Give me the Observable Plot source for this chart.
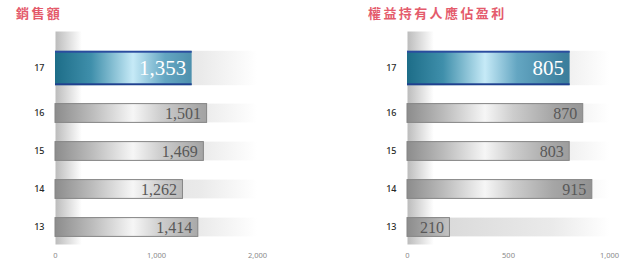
<!DOCTYPE html>
<html>
<head>
<meta charset="utf-8">
<script src="https://cdn.jsdelivr.net/npm/d3@7"></script>
<script src="https://cdn.jsdelivr.net/npm/@observablehq/plot@0.6"></script>
<style>
  html, body { margin: 0; padding: 0; background: #fff; }
  #wrap { display: flex; width: 640px; height: 265px; overflow: hidden; }
  .panel { width: 320px; }
  .title { height: 24px; line-height: 26px; font-family: "Noto Sans CJK TC", "Noto Sans CJK SC", sans-serif;
           font-weight: 700; font-size: 13px; letter-spacing: 2.4px; color: #e45b6c; white-space: nowrap; }
</style>
</head>
<body>
<div id="wrap"></div>
<script>
// ---- data ----
const years = ["17", "16", "15", "14", "13"];
const highlightYear = "17";
const salesValues = [1353, 1501, 1469, 1262, 1414];
const profitValues = [805, 870, 803, 915, 210];
const salesTicks = [0, 1000, 2000];
const profitTicks = [0, 500, 1000];
const salesTitle = "銷售額";
const profitTitle = "權益持有人應佔盈利";

function defs(id, ml) {
  const a = ml, b = ml + 200;
  return `<defs>
  <linearGradient id="vs-${id}" x1="0" x2="1" y1="0" y2="0">
    <stop offset="0" stop-color="#bcbcbc"/><stop offset="0.13" stop-color="#ffffff"/><stop offset="1" stop-color="#ffffff"/>
  </linearGradient>
  <linearGradient id="bg-${id}" x1="0" x2="1" y1="0" y2="0">
    <stop offset="0" stop-color="#d4d4d4"/><stop offset="0.35" stop-color="#dfdfdf"/><stop offset="0.72" stop-color="#eaeaea"/><stop offset="1" stop-color="#ffffff"/>
  </linearGradient>
  <linearGradient id="gr-${id}" gradientUnits="userSpaceOnUse" x1="${a}" x2="${b}" y1="0" y2="0">
    <stop offset="0" stop-color="#8c8c8c"/><stop offset="0.19" stop-color="#bdbdbd"/><stop offset="0.39" stop-color="#f6f6f6"/>
    <stop offset="0.53" stop-color="#cdcdcd"/><stop offset="0.73" stop-color="#a6a6a6"/><stop offset="1" stop-color="#8a8a8a"/>
  </linearGradient>
  <linearGradient id="bl-${id}" gradientUnits="userSpaceOnUse" x1="${a}" x2="${b}" y1="0" y2="0">
    <stop offset="0" stop-color="#1d6d88"/><stop offset="0.18" stop-color="#3f8fab"/><stop offset="0.39" stop-color="#c6eaf7"/>
    <stop offset="0.55" stop-color="#64a6c2"/><stop offset="0.78" stop-color="#3d809e"/><stop offset="1" stop-color="#2e6e8c"/>
  </linearGradient>
</defs>`;
}

function panel({title, values, ticks, ml, mr, id, titlePad}) {
  const rows = years.map((year, i) => ({year, value: values[i], hi: year === highlightYear}));
  const norm = rows.filter(d => !d.hi);
  const hi = rows.filter(d => d.hi);
  const xMin = ticks[0], xMax = ticks[ticks.length - 1];
  const yRange = [30, 223];
  const step = (yRange[1] - yRange[0]) / years.length;
  const nIn = (step - 19.4) / 2;
  const hIn = (step - 35) / 2;
  const hdy = -7;
  const fmt = d3.format(",");

  const chart = Plot.plot({
    width: 320, height: 241,
    marginLeft: ml, marginRight: mr, marginTop: 7, marginBottom: 21,
    style: {background: "white", fontFamily: "'Noto Sans', sans-serif"},
    x: {domain: [xMin, xMax]},
    y: {type: "band", domain: years, range: yRange, padding: 0, axis: null},
    marks: [
      Plot.frame({fill: `url(#vs-${id})`, stroke: "none"}),
      // background strips
      Plot.barX(norm, {x1: () => xMin, x2: () => xMax, y: "year", fill: `url(#bg-${id})`, insetTop: nIn, insetBottom: nIn}),
      Plot.barX(hi, {x1: () => xMin, x2: () => xMax, y: "year", fill: `url(#bg-${id})`, insetTop: hIn, insetBottom: hIn, dy: hdy}),
      // gray bars
      Plot.barX(norm, {x: "value", y: "year", fill: `url(#gr-${id})`, stroke: "#858585", strokeWidth: 1, insetTop: nIn, insetBottom: nIn}),
      // highlighted bar
      Plot.barX(hi, {x: "value", y: "year", fill: `url(#bl-${id})`, insetTop: hIn, insetBottom: hIn, dy: hdy}),
      Plot.barX(hi, {x: "value", y: "year", fill: "#2b4c9f", insetTop: hIn, insetBottom: step - hIn - 2.5, dy: hdy}),
      Plot.barX(hi, {x: "value", y: "year", fill: "#20408f", insetTop: step - hIn - 2.5, insetBottom: hIn, dy: hdy}),
      // value labels
      Plot.text(norm, {x: "value", y: "year", text: d => fmt(d.value), textAnchor: "end", dx: -6,
        fontFamily: "'Liberation Serif', serif", fontSize: 16, fill: "#585858"}),
      Plot.text(hi, {x: "value", y: "year", text: d => fmt(d.value), textAnchor: "end", dx: -6, dy: hdy,
        fontFamily: "'Liberation Serif', serif", fontSize: 21, fill: "#ffffff"}),
      // y labels
      Plot.text(norm, {y: "year", text: "year", frameAnchor: "left", textAnchor: "end", dx: -11, fontSize: 9, fill: "#2a2a2a", fontWeight: 500}),
      Plot.text(hi, {y: "year", text: "year", frameAnchor: "left", textAnchor: "end", dx: -11, dy: hdy, fontSize: 9, fill: "#2a2a2a", fontWeight: 500}),
      // x axis
      Plot.axisX(ticks, {tickFormat: fmt, tickSize: 0, tickPadding: 8, fontSize: 7.5, fill: "#8a8a8a", label: null})
    ]
  });
  chart.insertAdjacentHTML("afterbegin", defs(id, ml));

  const div = document.createElement("div");
  div.className = "panel";
  const t = document.createElement("div");
  t.className = "title";
  t.style.paddingLeft = titlePad + "px";
  t.textContent = title;
  div.appendChild(t);
  div.appendChild(chart);
  return div;
}

const wrap = document.getElementById("wrap");
wrap.appendChild(panel({title: salesTitle, values: salesValues, ticks: salesTicks, ml: 55, mr: 63, id: "s", titlePad: 16}));
wrap.appendChild(panel({title: profitTitle, values: profitValues, ticks: profitTicks, ml: 87, mr: 31, id: "p", titlePad: 48}));
</script>
</body>
</html>
